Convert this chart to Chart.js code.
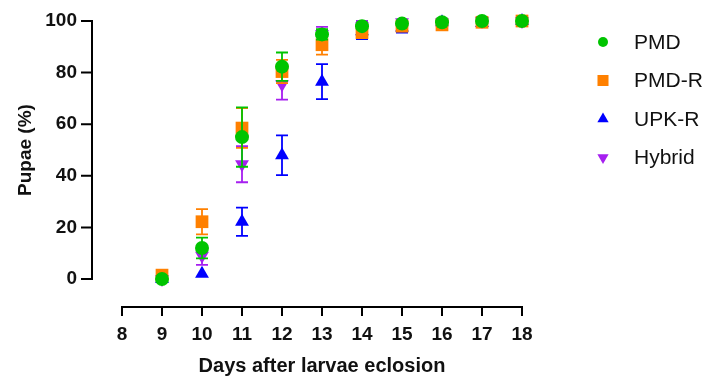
<!DOCTYPE html>
<html>
<head>
<meta charset="utf-8">
<script src="https://cdn.jsdelivr.net/npm/chart.js@4.4.1/dist/chart.umd.min.js"></script>
<style>
  html, body { margin: 0; padding: 0; background: #fff; }
  #wrap { width: 712px; height: 380px; }
</style>
</head>
<body>
<div id="wrap"><canvas id="myChart"></canvas></div>
<script>
// data
const days = [9, 10, 11, 12, 13, 14, 15, 16, 17, 18];
const xTicks = [8, 9, 10, 11, 12, 13, 14, 15, 16, 17, 18];
const yTicks = [0, 20, 40, 60, 80, 100];

const seriesNames = ['PMD', 'PMD-R', 'UPK-R', 'Hybrid'];

const pmd      = [0, 12, 55, 82.3, 94.8, 98, 99, 99.5, 100, 100];
const pmdErr   = [0, 4, 11.5, 5.5, 2, 1, 0.5, 0.5, 0, 0];
const pmdR     = [1.5, 22.2, 58.5, 80.4, 90.8, 95.5, 98, 98.5, 99.5, 100];
const pmdRErr  = [0, 4.9, 7.7, 4.5, 3.8, 1.5, 1, 0.5, 0, 0];
const upkR     = [0, 2, 22.2, 48, 76.5, 96, 97.5, 99.5, 99.2, 100];
const upkRErr  = [0.8, 0, 5.5, 7.7, 6.8, 3, 2, 0, 1.5, 0];
const hybrid   = [0, 9, 44.5, 75.5, 95, 98, 99.5, 99.5, 100, 100];
const hybridErr= [0, 3.5, 7, 6, 2.7, 2, 0, 1, 0, 0];

const colors = ['#00c400', '#ff8000', '#0000ff', '#a61ff0'];
const styles = ['circle', 'rect', 'triangle', 'triangle'];
const rotations = [0, 0, 0, 180];
const radii = [7, 9, 8, 8];
const legendRadii = [5, 7.8, 6.5, 6.5];

const values = [pmd, pmdR, upkR, hybrid];
const errors = [pmdErr, pmdRErr, upkRErr, hybridErr];

const ctx = document.getElementById('myChart');

// error bars drawn just before each dataset's markers
const errorBars = {
    id: 'errorBars',
    beforeDatasetDraw(chart, args) {
        const i = args.index;
        const err = errors[i];
        const yScale = chart.scales.y;
        const c = chart.ctx;
        c.save();
        c.strokeStyle = colors[i];
        c.lineWidth = 1.8;
        args.meta.data.forEach((pt, j) => {
            if (!err[j]) return;
            const v = values[i][j];
            const top = yScale.getPixelForValue(v + err[j]);
            const bot = yScale.getPixelForValue(v - err[j]);
            c.beginPath();
            c.moveTo(pt.x, top); c.lineTo(pt.x, bot);
            c.moveTo(pt.x - 6, top); c.lineTo(pt.x + 6, top);
            c.moveTo(pt.x - 6, bot); c.lineTo(pt.x + 6, bot);
            c.stroke();
        });
        c.restore();
    }
};

// offset axes in the Prism style
const offsetAxes = {
    id: 'offsetAxes',
    beforeDatasetsDraw(chart) {
        const { ctx: c, chartArea, scales: { x, y } } = chart;
        c.save();
        c.strokeStyle = '#000';
        c.lineWidth = 2;
        const ax = chartArea.left - 30;
        c.beginPath();
        c.moveTo(ax, y.getPixelForValue(0) + 1);
        c.lineTo(ax, y.getPixelForValue(100) - 1);
        yTicks.forEach(t => {
            const py = y.getPixelForValue(t);
            c.moveTo(ax, py); c.lineTo(ax - 11, py);
        });
        const ay = chartArea.bottom + 28;
        c.moveTo(x.getPixelForValue(8) - 1, ay);
        c.lineTo(x.getPixelForValue(18) + 1, ay);
        xTicks.forEach(t => {
            const px = x.getPixelForValue(t);
            c.moveTo(px, ay); c.lineTo(px, ay + 9);
        });
        c.stroke();
        c.restore();
    }
};

// legend on the right
const sideLegend = {
    id: 'sideLegend',
    afterDraw(chart) {
        const c = chart.ctx;
        c.save();
        c.font = '21px "Liberation Sans", Arial, sans-serif';
        c.textBaseline = 'middle';
        c.textAlign = 'left';
        seriesNames.forEach((name, i) => {
            const ly = 42 + i * 38.5;
            c.fillStyle = colors[i];
            Chart.helpers.drawPoint(c, {
                pointStyle: styles[i], radius: legendRadii[i],
                rotation: rotations[i], borderWidth: 0
            }, 603, ly);
            c.fillStyle = '#111';
            c.fillText(name, 634, ly + 1);
        });
        c.restore();
    }
};

new Chart(ctx, {
    type: 'scatter',
    data: {
        datasets: seriesNames.map((name, i) => ({
            label: name,
            data: days.map((d, j) => ({ x: d, y: values[i][j] })),
            backgroundColor: colors[i],
            borderColor: colors[i],
            borderWidth: 0,
            pointStyle: styles[i],
            pointRotation: rotations[i],
            pointRadius: radii[i],
            pointHoverRadius: radii[i],
            clip: false
        }))
    },
    options: {
        responsive: true,
        maintainAspectRatio: false,
        animation: false,
        layout: { padding: { left: 0, right: 190, top: 21, bottom: 0 } },
        plugins: {
            legend: { display: false },
            tooltip: { enabled: false }
        },
        scales: {
            x: {
                type: 'linear',
                min: 8, max: 18,
                afterFit(s) { s.height = 101; },
                // tickLength only pushes the labels away, the axis itself is drawn by offsetAxes
                grid: { display: false, drawTicks: true, tickLength: 44 },
                border: { display: false },
                ticks: {
                    stepSize: 1,
                    padding: 0,
                    color: '#111',
                    font: { family: '"Liberation Sans", Arial, sans-serif', size: 19, weight: 'bold' }
                },
                title: {
                    display: true,
                    text: 'Days after larvae eclosion',
                    color: '#111',
                    padding: { top: 8, bottom: 2 },
                    font: { family: '"Liberation Sans", Arial, sans-serif', size: 20, weight: 'bold' }
                }
            },
            y: {
                min: 0, max: 100,
                afterFit(s) { s.width = 122; },
                grid: { display: false, drawTicks: true, tickLength: 45 },
                border: { display: false },
                ticks: {
                    stepSize: 20,
                    padding: 0,
                    color: '#111',
                    font: { family: '"Liberation Sans", Arial, sans-serif', size: 19, weight: 'bold' }
                },
                title: {
                    display: true,
                    text: 'Pupae (%)',
                    color: '#111',
                    padding: { top: 14, bottom: 0 },
                    font: { family: '"Liberation Sans", Arial, sans-serif', size: 19, weight: 'bold' }
                }
            }
        }
    },
    plugins: [errorBars, offsetAxes, sideLegend]
});
</script>
</body>
</html>
